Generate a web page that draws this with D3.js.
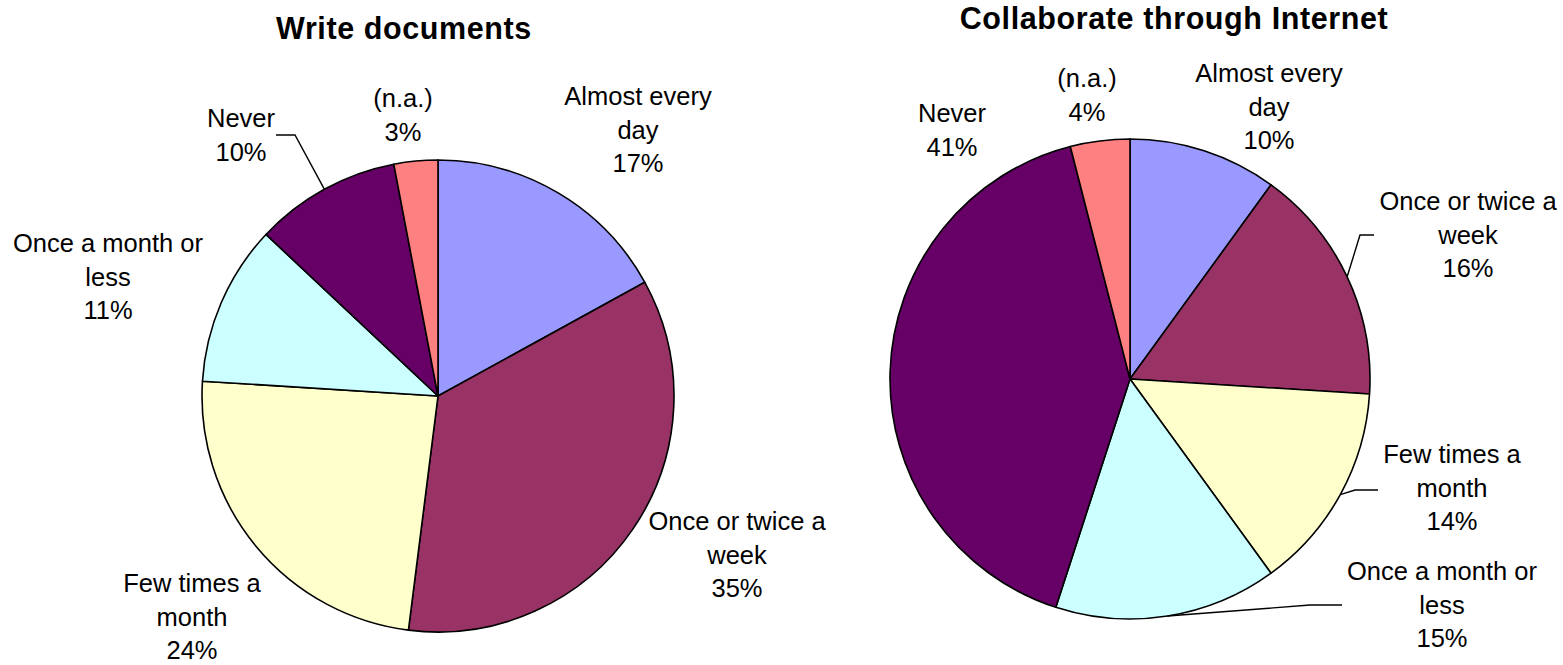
<!DOCTYPE html>
<html>
<head>
<meta charset="utf-8">
<script src="https://cdn.jsdelivr.net/npm/d3@7"></script>
<style>
  html, body { margin: 0; padding: 0; background: #fff; }
  svg { display: block; }
  text { font-family: "Liberation Sans", Arial, sans-serif; fill: #000; }
</style>
</head>
<body>
<svg id="chart" width="1563" height="665"></svg>
<script>
// Frequency categories, shared by both pies (clockwise from 12 o'clock)
const categories = [
  ["Almost every", "day"],
  ["Once or twice a", "week"],
  ["Few times a", "month"],
  ["Once a month or", "less"],
  ["Never"],
  ["(n.a.)"]
];
const sliceColors = ["#9999FF", "#993366", "#FFFFCC", "#CCFFFF", "#660066", "#FF8080"];

// Shares in percent
const writeDocuments = [17, 35, 24, 11, 10, 3];
const collaborateInternet = [10, 16, 14, 15, 41, 4];

const titles = ["Write documents", "Collaborate through Internet"];

// Layout: pie centre/radius, title placement, label offsets (from the centre)
// and optional leader lines [elbow, end] (also relative to the centre).
const pies = [
  {
    title: titles[0], values: writeDocuments,
    cx: 438, cy: 396, r: 236, titleX: 404, titleY: 39,
    labels: [
      { dx: 200, dy: -291 },
      { dx: 299, dy: 134 },
      { dx: -246, dy: 196 },
      { dx: -330, dy: -144 },
      { dx: -197, dy: -269, leader: [[-143, -261], [-162, -261]] },
      { dx: -35, dy: -289 }
    ]
  },
  {
    title: titles[1], values: collaborateInternet,
    cx: 1130, cy: 379, r: 240, titleX: 1174, titleY: 29,
    labels: [
      { dx: 139, dy: -297 },
      { dx: 338, dy: -169, leader: [[230, -144], [244, -144]] },
      { dx: 322, dy: 84, leader: [[225, 111], [248, 111]] },
      { dx: 312, dy: 201, leader: [[180, 226], [212, 226]] },
      { dx: -178, dy: -257 },
      { dx: -43, dy: -292 }
    ]
  }
];

const svg = d3.select("#chart");
const lineHeight = 33.5;

const pieGen = d3.pie().sort(null).value(d => d);

pies.forEach(p => {
  const g = svg.append("g");

  g.append("text")
    .attr("x", p.titleX)
    .attr("y", p.titleY)
    .attr("text-anchor", "middle")
    .style("font-size", "30.5px")
    .style("font-weight", "bold")
    .style("letter-spacing", "0.6px")
    .text(p.title);

  const arcs = pieGen(p.values);
  const arc = d3.arc().innerRadius(0).outerRadius(p.r);

  const pieG = g.append("g").attr("transform", `translate(${p.cx},${p.cy})`);

  pieG.selectAll("path.slice")
    .data(arcs)
    .join("path")
    .attr("class", "slice")
    .attr("d", arc)
    .attr("fill", (d, i) => sliceColors[i])
    .attr("stroke", "#000")
    .attr("stroke-width", 1.6)
    .attr("stroke-linejoin", "round");

  // Leader lines from the slice's outer edge to the label
  arcs.forEach((a, i) => {
    const lab = p.labels[i];
    if (!lab.leader) return;
    const mid = (a.startAngle + a.endAngle) / 2;
    const start = [p.r * Math.sin(mid), -p.r * Math.cos(mid)];
    pieG.append("path")
      .attr("d", d3.line()([start, ...lab.leader]))
      .attr("fill", "none")
      .attr("stroke", "#000")
      .attr("stroke-width", 1.4);
  });

  // Category + percentage labels
  arcs.forEach((a, i) => {
    const lab = p.labels[i];
    const lines = [...categories[i], d3.format(".0f")(a.data) + "%"];
    const t = pieG.append("text")
      .attr("x", lab.dx)
      .attr("y", lab.dy)
      .attr("text-anchor", "middle")
      .style("font-size", "25.5px");
    lines.forEach((ln, k) => {
      t.append("tspan")
        .attr("x", lab.dx)
        .attr("y", lab.dy + k * lineHeight)
        .text(ln);
    });
  });
});
</script>
</body>
</html>
